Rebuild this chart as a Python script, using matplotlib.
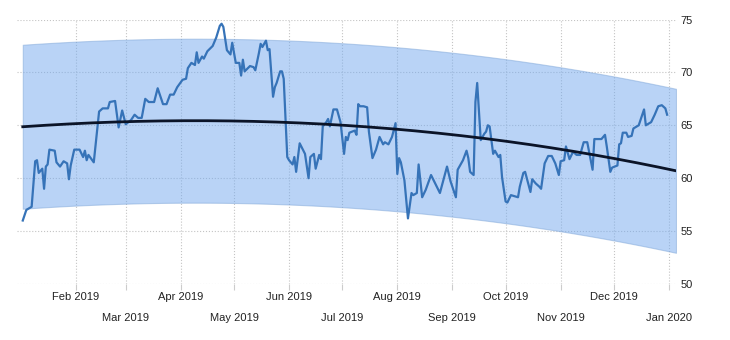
import matplotlib
matplotlib.use("Agg")
import matplotlib.pyplot as plt
import numpy as np
import pandas as pd
from datetime import datetime

# daily close, 2019
dates = [
    "2019-01-02", "2019-01-04", "2019-01-07", "2019-01-09", "2019-01-10", "2019-01-11",
    "2019-01-13", "2019-01-14", "2019-01-15", "2019-01-16", "2019-01-17", "2019-01-20",
    "2019-01-21", "2019-01-23", "2019-01-25", "2019-01-27", "2019-01-28", "2019-01-29",
    "2019-01-31", "2019-02-03", "2019-02-05", "2019-02-06", "2019-02-07", "2019-02-08",
    "2019-02-11", "2019-02-14", "2019-02-16", "2019-02-19", "2019-02-20", "2019-02-23",
    "2019-02-25", "2019-02-27", "2019-03-01", "2019-03-04", "2019-03-06", "2019-03-08",
    "2019-03-10", "2019-03-12", "2019-03-14", "2019-03-17", "2019-03-19", "2019-03-22",
    "2019-03-24", "2019-03-26", "2019-03-28", "2019-03-30", "2019-04-02", "2019-04-04",
    "2019-04-05", "2019-04-07", "2019-04-09", "2019-04-10", "2019-04-11", "2019-04-13",
    "2019-04-14", "2019-04-16", "2019-04-19", "2019-04-21", "2019-04-23", "2019-04-24",
    "2019-04-25", "2019-04-27", "2019-04-29", "2019-04-30", "2019-05-02", "2019-05-04",
    "2019-05-05", "2019-05-06", "2019-05-07", "2019-05-10", "2019-05-12", "2019-05-13",
    "2019-05-15", "2019-05-16", "2019-05-17", "2019-05-19", "2019-05-20", "2019-05-21",
    "2019-05-23", "2019-05-24", "2019-05-25", "2019-05-27", "2019-05-28", "2019-05-29",
    "2019-05-31", "2019-06-01", "2019-06-03", "2019-06-04", "2019-06-05", "2019-06-07",
    "2019-06-10", "2019-06-12", "2019-06-13", "2019-06-15", "2019-06-16", "2019-06-18",
    "2019-06-19", "2019-06-20", "2019-06-22", "2019-06-23", "2019-06-24", "2019-06-26",
    "2019-06-28", "2019-06-30", "2019-07-02", "2019-07-03", "2019-07-04", "2019-07-05",
    "2019-07-08", "2019-07-09", "2019-07-10", "2019-07-11", "2019-07-13", "2019-07-15",
    "2019-07-16", "2019-07-18", "2019-07-20", "2019-07-21", "2019-07-22", "2019-07-24",
    "2019-07-25", "2019-07-27", "2019-07-29", "2019-07-31", "2019-08-01", "2019-08-02",
    "2019-08-03", "2019-08-05", "2019-08-07", "2019-08-09", "2019-08-10", "2019-08-12",
    "2019-08-13", "2019-08-15", "2019-08-17", "2019-08-20", "2019-08-25", "2019-08-29",
    "2019-08-31", "2019-09-03", "2019-09-04", "2019-09-07", "2019-09-09", "2019-09-10",
    "2019-09-11", "2019-09-13", "2019-09-14", "2019-09-15", "2019-09-17", "2019-09-19",
    "2019-09-20", "2019-09-21", "2019-09-22", "2019-09-23", "2019-09-24", "2019-09-25",
    "2019-09-27", "2019-09-28", "2019-09-29", "2019-10-01", "2019-10-02", "2019-10-04",
    "2019-10-06", "2019-10-08", "2019-10-09", "2019-10-11", "2019-10-12", "2019-10-15",
    "2019-10-16", "2019-10-18", "2019-10-20", "2019-10-21", "2019-10-23", "2019-10-25",
    "2019-10-27", "2019-10-29", "2019-10-31", "2019-11-01", "2019-11-03", "2019-11-04",
    "2019-11-06", "2019-11-08", "2019-11-10", "2019-11-12", "2019-11-14", "2019-11-16",
    "2019-11-19", "2019-11-20", "2019-11-22", "2019-11-24", "2019-11-26", "2019-11-27",
    "2019-11-29", "2019-11-30", "2019-12-03", "2019-12-04", "2019-12-05", "2019-12-06",
    "2019-12-08", "2019-12-09", "2019-12-11", "2019-12-12", "2019-12-15", "2019-12-18",
    "2019-12-19", "2019-12-22", "2019-12-24", "2019-12-26", "2019-12-28", "2019-12-30",
    "2019-12-31",
]
prices = [
    56.0, 57.0, 57.3, 61.6, 61.7, 60.5,
    60.9, 59.0, 61.1, 61.3, 62.7, 62.6,
    61.5, 61.1, 61.6, 61.4, 59.9, 61.2,
    62.7, 62.7, 62.0, 62.6, 61.7, 62.2,
    61.5, 66.3, 66.6, 66.6, 67.2, 67.3,
    64.8, 66.4, 65.1, 65.5, 66.0, 65.7,
    65.7, 67.5, 67.2, 67.2, 68.5, 67.0,
    67.0, 67.9, 67.9, 68.6, 69.3, 69.4,
    70.4, 70.9, 70.7, 71.9, 70.9, 71.5,
    71.3, 72.0, 72.5, 73.3, 74.4, 74.6,
    74.3, 72.1, 71.7, 72.8, 70.9, 70.9,
    69.7, 71.2, 70.1, 70.6, 70.5, 70.2,
    71.8, 72.7, 72.4, 73.0, 72.1, 72.2,
    67.7, 68.6, 69.0, 70.1, 70.1, 69.4,
    62.0, 61.7, 61.3, 62.0, 60.6, 63.3,
    62.3, 60.0, 62.0, 62.3, 60.9, 62.2,
    61.8, 64.9, 65.3, 65.6, 64.9, 66.5,
    66.5, 65.3, 62.3, 63.9, 63.6, 64.3,
    64.5, 64.1, 67.0, 66.8, 66.8, 66.7,
    64.4, 61.9, 62.7, 63.3, 63.9, 63.2,
    63.4, 63.2, 63.9, 65.2, 60.4, 61.9,
    61.5, 59.8, 56.2, 58.6, 58.4, 58.6,
    61.3, 58.2, 58.9, 60.3, 58.6, 61.1,
    59.7, 58.2, 60.8, 61.7, 62.6, 61.9,
    60.6, 60.3, 67.2, 69.0, 63.6, 64.2,
    64.4, 65.0, 64.9, 63.6, 62.3, 62.6,
    62.0, 62.2, 60.1, 57.8, 57.7, 58.4,
    58.3, 58.2, 59.2, 60.5, 60.6, 58.7,
    59.9, 59.5, 59.2, 59.0, 61.4, 62.1,
    62.1, 61.4, 60.3, 61.6, 61.7, 63.0,
    61.8, 62.5, 62.2, 62.2, 63.4, 63.4,
    60.8, 63.7, 63.7, 63.7, 64.1, 63.0,
    60.6, 61.0, 61.2, 63.2, 63.3, 64.3,
    64.3, 63.9, 64.0, 64.7, 65.0, 66.5,
    65.0, 65.3, 66.0, 66.8, 66.9, 66.6,
    66.0,
]

# trend readings and channel half-width
trend_dates = ["2019-01-02", "2019-03-01", "2019-04-01", "2019-05-01", "2019-06-01",
               "2019-07-01", "2019-08-01", "2019-09-01", "2019-10-01", "2019-11-01",
               "2019-12-01", "2020-01-05"]
trend_values = [64.85, 65.4, 65.4, 65.4, 65.2, 65.0, 64.7, 64.2, 63.4, 62.7, 61.9, 60.7]
channel_width = 7.75

y_ticks = [50, 55, 60, 65, 70, 75]

dt = pd.to_datetime(dates)
price = np.array(prices)

# smooth curve through the trend readings
td = pd.to_datetime(trend_dates)
t0 = td[0]
coef = np.polyfit((td - t0).days.values.astype(float), trend_values, 3)
trend_dt = pd.date_range(td[0], td[-1], freq="D")
trend = np.polyval(coef, (trend_dt - t0).days.values.astype(float))

plt.rcParams["font.family"] = ["Liberation Sans", "DejaVu Sans"]

fig = plt.figure(figsize=(7.3, 3.4), dpi=100)
ax = fig.add_axes([17 / 730, 1 - 284 / 340, (676 - 17) / 730, (284 - 19.5) / 340])

ax.fill_between(trend_dt, trend - channel_width, trend + channel_width,
                facecolor="#74a9ee", alpha=0.5, edgecolor="#7fa6d8", linewidth=0.8, zorder=1)
ax.plot(dt, price, color="#3673b8", linewidth=1.6, zorder=3)
ax.plot(trend_dt, trend, color="#0b1428", linewidth=2.0, zorder=4)

ax.set_xlim(datetime(2018, 12, 29, 18), trend_dt[-1])
ax.set_ylim(50, 75)

major = [datetime(2019, m, 1) for m in (2, 4, 6, 8, 10, 12)]
minor = [datetime(2019, m, 1) for m in (3, 5, 7, 9, 11)] + [datetime(2020, 1, 1)]
ax.set_xticks(major)
ax.set_xticklabels([d.strftime("%b %Y") for d in major])
ax.set_xticks(minor, minor=True)
ax.set_xticklabels([d.strftime("%b %Y") for d in minor], minor=True)
ax.tick_params(axis="x", which="both", length=4.5, width=0.8, color="#cccccc",
               labelsize=8, labelcolor="#222222")
ax.tick_params(axis="x", which="major", pad=1.5)
ax.tick_params(axis="x", which="minor", pad=16.5)

ax.yaxis.tick_right()
ax.set_yticks(y_ticks)
ax.tick_params(axis="y", length=0, pad=3, labelsize=8, labelcolor="#222222")

ax.grid(True, which="both", color="#c4c4c4", linestyle=":", linewidth=0.8)
ax.set_axisbelow(True)
for s in ax.spines.values():
    s.set_visible(False)

fig.savefig("out.png", dpi=100)
